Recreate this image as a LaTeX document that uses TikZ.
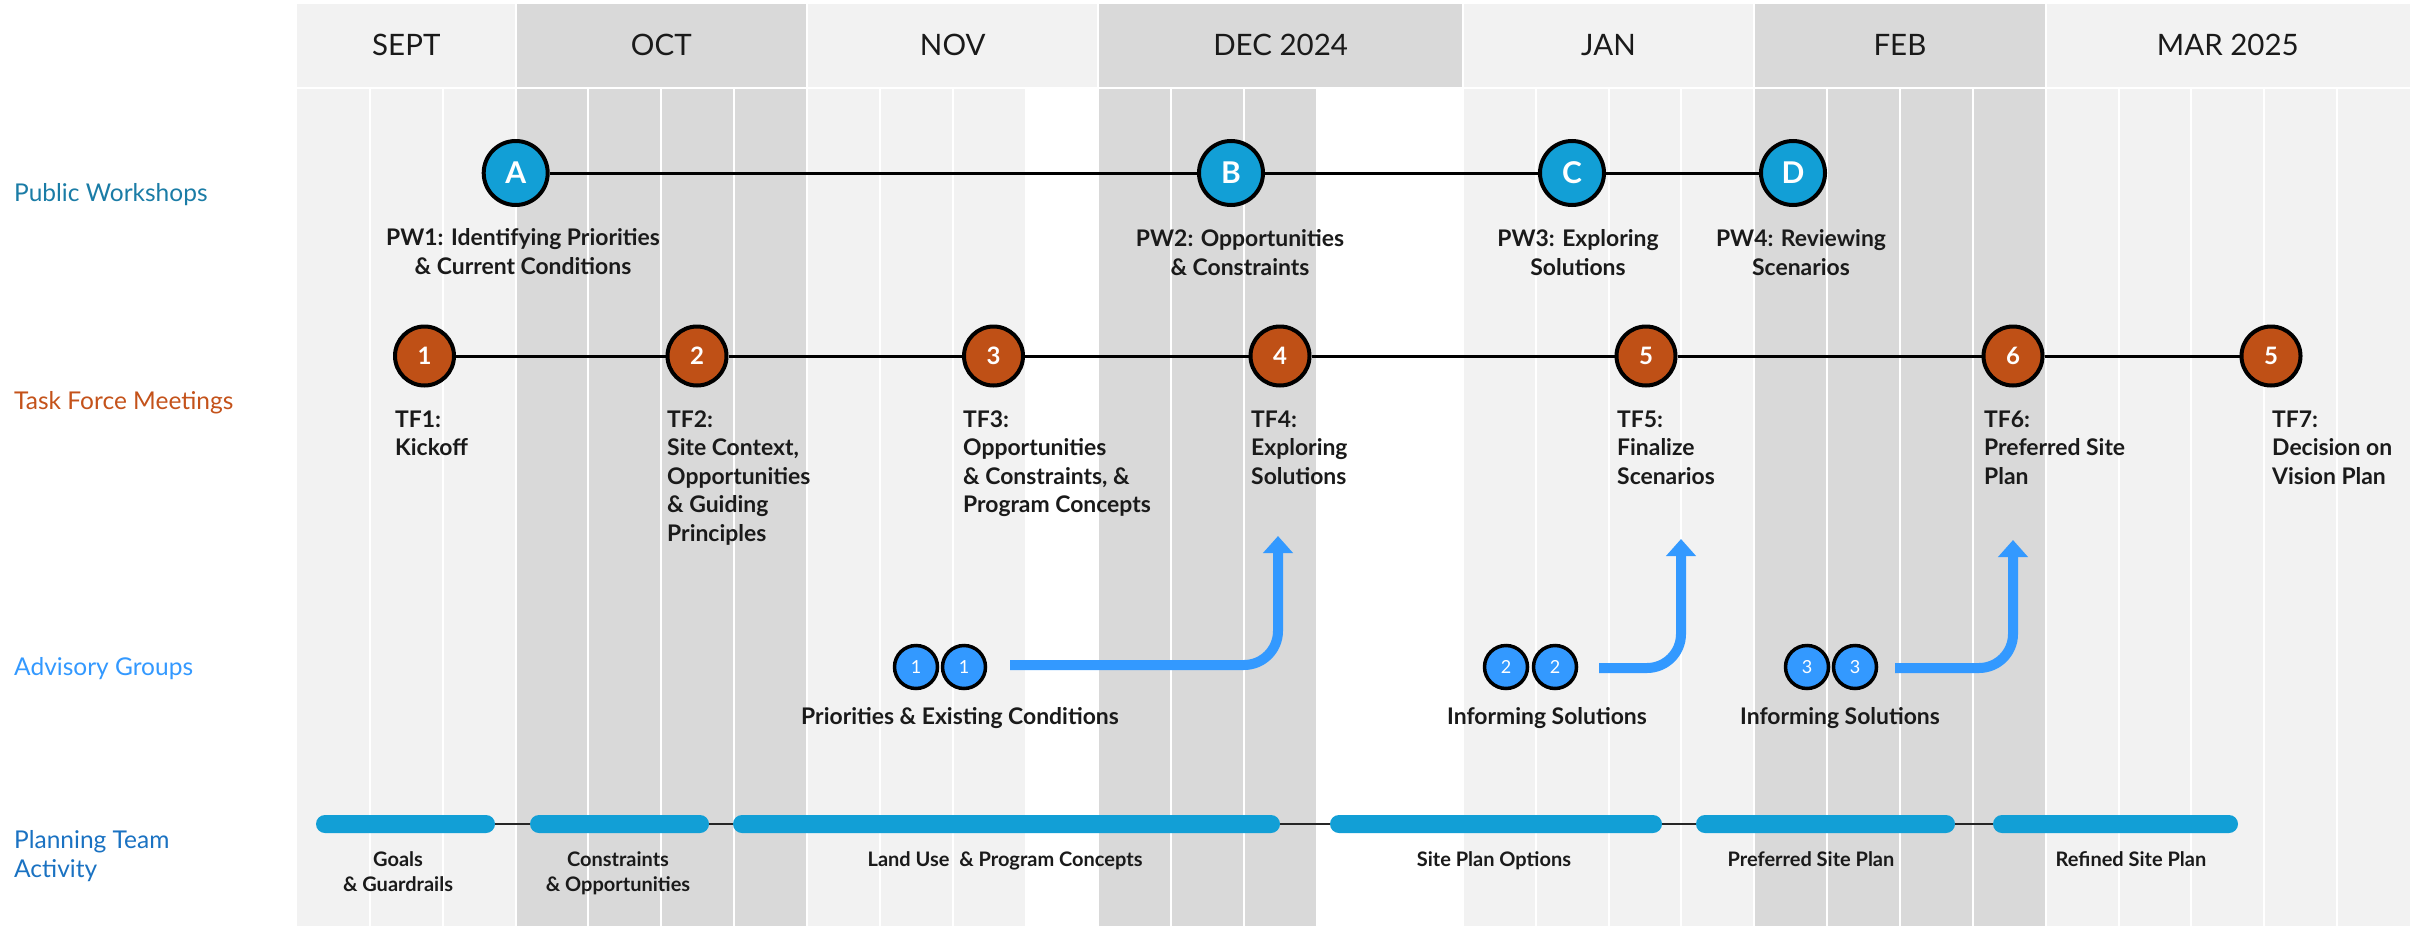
\documentclass[tikz,border=0pt]{standalone}
\usepackage{fontspec}
\setmainfont{Lato}
\usetikzlibrary{arrows.meta}
\definecolor{hl}{HTML}{F2F2F2}
\definecolor{hd}{HTML}{D9D9D9}
\definecolor{pwblue}{HTML}{129FD6}
\definecolor{tforange}{HTML}{BF5016}
\definecolor{agblue}{HTML}{3399FF}
\definecolor{barblue}{HTML}{129FD6}
\definecolor{pwtext}{HTML}{1A7CA6}
\definecolor{tftext}{HTML}{C4521A}
\definecolor{agtext}{HTML}{3399FF}
\definecolor{pttext}{HTML}{1A72C2}
\definecolor{ink}{HTML}{1A1A1A}
\begin{document}
\begin{tikzpicture}[x=1pt,y=-1pt,
  monthlbl/.style={font=\fontsize{29.5}{30}\selectfont, anchor=base, inner sep=0, text=ink},
  rowlbl/.style={font=\fontsize{24.5}{29}\selectfont, anchor=base west, inner sep=0, align=left},
  pwnode/.style={circle, draw=black, line width=4pt, fill=pwblue, minimum size=64pt, inner sep=0, text=white, font=\bfseries\fontsize{30}{30}\selectfont},
  tfnode/.style={circle, draw=black, line width=4pt, fill=tforange, minimum size=59pt, inner sep=0, text=white, font=\bfseries\fontsize{24}{24}\selectfont},
  agnode/.style={circle, draw=black, line width=3.5pt, fill=agblue, minimum size=43pt, inner sep=0, text=white, font=\fontsize{18}{18}\selectfont},
  lbl/.style={font=\bfseries\fontsize{22.9}{28.6}\selectfont, inner sep=0, anchor=base, text=ink},
  tflbl/.style={lbl, anchor=base west, align=left},
  barlbl/.style={font=\bfseries\fontsize{20}{25}\selectfont, inner sep=0, anchor=base, align=center, text=ink},
  bar/.style={rectangle, fill=barblue, rounded corners=9pt, minimum height=18pt, inner sep=0},
  link/.style={black, line width=3pt},
  thinlink/.style={black!85, line width=1.6pt},
  agarrow/.style={agblue, line width=10pt, rounded corners=34pt, -{Triangle[length=17pt, width=29pt]}}
]
\useasboundingbox (0,0) rectangle (2417,926);
\fill[white] (0,0) rectangle (2417,926);
% body week columns
\foreach \k/\c in {0/hl,1/hl,2/hl,3/hd,4/hd,5/hd,6/hd,7/hl,8/hl,9/hl,10/white,11/hd,12/hd,13/hd,14/white,15/white,16/hl,17/hl,18/hl,19/hl,20/hd,21/hd,22/hd,23/hd,24/hl,25/hl,26/hl,27/hl,28/hl}
  \fill[\c] ({297+\k*72.86},88.5) rectangle ({297+(\k+1)*72.86},926);
\foreach \k in {1,...,28}
  \draw[white, line width=2pt] ({297+\k*72.86},88.5) -- ({297+\k*72.86},926);
% header
\foreach \a/\b/\c/\t/\n in {0/3/hl/SEPT/sep,3/7/hd/OCT/oct,7/11/hl/NOV/nov,11/16/hd/DEC 2024/dec,16/20/hl/JAN/jan,20/24/hd/FEB/feb,24/29/hl/MAR 2025/mar}{
  \fill[\c] ({297+\a*72.86},4) rectangle ({297+\b*72.86},86.5);
  \node[monthlbl] (m\n) at ({297+(\a+\b)/2*72.86},55.5) {\t};
}
\foreach \k in {3,7,11,16,20,24}
  \draw[white, line width=2pt] ({297+\k*72.86},4) -- ({297+\k*72.86},86.5);
% row labels (base = last line)
\node[rowlbl, text=pwtext] (rpw) at (14,201) {Public Workshops};
\node[rowlbl, text=tftext] (rtf) at (14,409) {Task Force Meetings};
\node[rowlbl, text=agtext] (rag) at (14,675) {Advisory Groups};
\node[rowlbl, text=pttext] (rpt) at (14,877) {Planning Team\\Activity};
% public workshops
\node[pwnode] (A) at (515.7,173) {A};
\node[pwnode] (B) at (1231,173) {B};
\node[pwnode] (C) at (1572,173) {C};
\node[pwnode] (D) at (1793,173) {D};
\draw[link] (A) -- (B);
\draw[link] (B) -- (C);
\draw[link] (C) -- (D);
\node[lbl, align=center] (lpw1) at (523,274) {PW1: Identifying Priorities\\\& Current Conditions};
\node[lbl, align=center] (lpw2) at (1240,275) {PW2: Opportunities\\\& Constraints};
\node[lbl, align=center] (lpw3) at (1578,275) {PW3: Exploring\\Solutions};
\node[lbl, align=center] (lpw4) at (1801,275) {PW4: Reviewing\\Scenarios};
% task force
\node[tfnode] (T1) at (424.5,356) {1};
\node[tfnode] (T2) at (697,356) {2};
\node[tfnode] (T3) at (993.5,356) {3};
\node[tfnode] (T4) at (1280,356) {4};
\node[tfnode] (T5) at (1646,356) {5};
\node[tfnode] (T6) at (2013,356) {6};
\node[tfnode] (T7) at (2271,356) {5};
\draw[link] (T1) -- (T2);
\draw[link] (T2) -- (T3);
\draw[link] (T3) -- (T4);
\draw[link] (T4) -- (T5);
\draw[link] (T5) -- (T6);
\draw[link] (T6) -- (T7);
\node[tflbl] (ltf1) at (395,455.6) {TF1:\\Kickoff};
\node[tflbl] (ltf2) at (667,541.4) {TF2:\\Site Context,\\Opportunities\\\& Guiding\\Principles};
\node[tflbl] (ltf3) at (963,512.8) {TF3:\\Opportunities\\\& Constraints, \&\\Program Concepts};
\node[tflbl] (ltf4) at (1251,484.2) {TF4:\\Exploring\\Solutions};
\node[tflbl] (ltf5) at (1617,484.2) {TF5:\\Finalize\\Scenarios};
\node[tflbl] (ltf6) at (1984,484.2) {TF6:\\Preferred Site\\Plan};
\node[tflbl] (ltf7) at (2272,484.2) {TF7:\\Decision on\\Vision Plan};
% advisory groups
\node[agnode] (G1a) at (916,667) {1};
\node[agnode] (G1b) at (964,667) {1};
\node[agnode] (G2a) at (1506,667) {2};
\node[agnode] (G2b) at (1555,667) {2};
\node[agnode] (G3a) at (1807,667) {3};
\node[agnode] (G3b) at (1855,667) {3};
\coordinate (a1s) at (1010,665);
\coordinate (a1e) at (1278,536);
\coordinate (a2s) at (1599,668);
\coordinate (a2e) at (1681,539);
\coordinate (a3s) at (1895,668);
\coordinate (a3e) at (2013,540);
\draw[agarrow] (a1s) -| (a1e);
\draw[agarrow] (a2s) -| (a2e);
\draw[agarrow] (a3s) -| (a3e);
\node[lbl] (lag1) at (960,724) {Priorities \& Existing Conditions};
\node[lbl] (lag2) at (1547,724) {Informing Solutions};
\node[lbl] (lag3) at (1840,724) {Informing Solutions};
% planning team bars
\node[bar, minimum width=179pt] (P1) at (405.5,824) {};
\node[bar, minimum width=179pt] (P2) at (619.5,824) {};
\node[bar, minimum width=547pt] (P3) at (1006.5,824) {};
\node[bar, minimum width=332pt] (P4) at (1496,824) {};
\node[bar, minimum width=259pt] (P5) at (1825.5,824) {};
\node[bar, minimum width=245pt] (P6) at (2115.5,824) {};
\draw[thinlink] (P1.east) -- (P2.west);
\draw[thinlink] (P2.east) -- (P3.west);
\draw[thinlink] (P3.east) -- (P4.west);
\draw[thinlink] (P4.east) -- (P5.west);
\draw[thinlink] (P5.east) -- (P6.west);
\node[barlbl] (lp1) at (398,891) {Goals\\\& Guardrails};
\node[barlbl] (lp2) at (618,891) {Constraints\\\& Opportunities};
\node[barlbl] (lp3) at (1005,866) {Land Use~ \& Program Concepts};
\node[barlbl] (lp4) at (1494,866) {Site Plan Options};
\node[barlbl] (lp5) at (1811,866) {Preferred Site Plan};
\node[barlbl] (lp6) at (2131,866) {Refined Site Plan};
\end{tikzpicture}
\end{document}
